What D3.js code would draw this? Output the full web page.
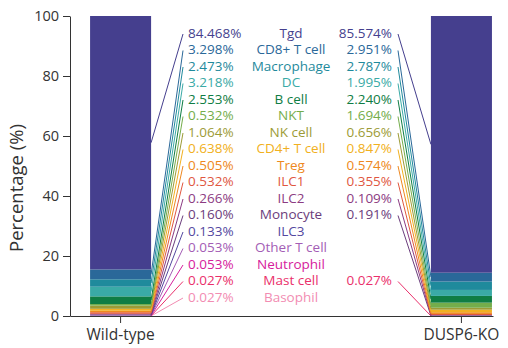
<!DOCTYPE html>
<html>
<head>
<meta charset="utf-8">
<script src="https://cdn.jsdelivr.net/npm/d3@7"></script>
<style>
  body { margin: 0; background: #fff; }
  text { font-family: "Open Sans", "Noto Sans", sans-serif; }
</style>
</head>
<body>
<div id="chart"></div>
<script>
// Chart data (top of stack first)
var cellTypes = ["Tgd", "CD8+ T cell", "Macrophage", "DC", "B cell", "NKT", "NK cell",
  "CD4+ T cell", "Treg", "ILC1", "ILC2", "Monocyte", "ILC3", "Other T cell",
  "Neutrophil", "Mast cell", "Basophil"];
var wildType = [84.468, 3.298, 2.473, 3.218, 2.553, 0.532, 1.064, 0.638, 0.505,
  0.532, 0.266, 0.160, 0.133, 0.053, 0.053, 0.027, 0.027];
var dusp6KO = [85.574, 2.951, 2.787, 1.995, 2.240, 1.694, 0.656, 0.847, 0.574,
  0.355, 0.109, 0.191, 0, 0, 0, 0.027, 0];
var groups = ["Wild-type", "DUSP6-KO"];
var cellColors = ["#453f8e", "#2a6899", "#1f8a9c", "#3aaaa6", "#0f7d44", "#74ad4b",
  "#9c9b36", "#f1b020", "#ee8820", "#e0573f", "#8c3b82", "#6b3d7c", "#5448a0",
  "#a35db5", "#d6209c", "#ea2f6b", "#f28cb2"];
var yTicks = [0, 20, 40, 60, 80, 100];

var svgWidth = 508;
var svgHeight = 348;

var svg = d3.select("#chart").append("svg")
  .attr("width", svgWidth)
  .attr("height", svgHeight);

// build table for the stack
var table = groups.map(function(g, gi) {
  var row = { group: g };
  cellTypes.forEach(function(c, i) {
    row[c] = gi === 0 ? wildType[i] : dusp6KO[i];
  });
  return row;
});

var stackKeys = cellTypes.slice().reverse(); // Basophil at the bottom
var series = d3.stack().keys(stackKeys)(table);

var color = d3.scaleOrdinal().domain(cellTypes).range(cellColors);

var xScale = d3.scaleBand()
  .domain(groups)
  .range([70, 493])
  .paddingInner(0.821)
  .paddingOuter(0.031)
  .align(0.95);

var yScale = d3.scaleLinear()
  .domain([0, 100])
  .range([316, 16]);

// label rows
var rowScale = d3.scalePoint()
  .domain(cellTypes)
  .range([33, 297]);

// bars
var layers = svg.append("g").selectAll("g")
  .data(series)
  .enter()
  .append("g")
  .attr("fill", function(d) { return color(d.key); });

layers.selectAll("rect")
  .data(function(d) { return d; })
  .enter()
  .append("rect")
  .attr("x", function(d) { return xScale(d.data.group); })
  .attr("width", xScale.bandwidth())
  .attr("y", function(d) { return yScale(d[1]); })
  .attr("height", function(d) { return yScale(d[0]) - yScale(d[1]); });

// connector lines
var lineGrp = svg.append("g").attr("fill", "none").attr("stroke-width", 1);
series.forEach(function(s) {
  var key = s.key;
  // wild-type: bar right edge -> label
  var wt = s[0];
  if (wt.data[key] > 0) {
    lineGrp.append("line")
      .attr("stroke", color(key))
      .attr("x1", xScale(groups[0]) + xScale.bandwidth())
      .attr("y1", yScale((wt[0] + wt[1]) / 2))
      .attr("x2", 183)
      .attr("y2", rowScale(key) + 1);
  }
  // DUSP6-KO: label -> bar left edge
  var ko = s[1];
  if (ko.data[key] > 0) {
    lineGrp.append("line")
      .attr("stroke", color(key))
      .attr("x1", 398)
      .attr("y1", rowScale(key) + 1)
      .attr("x2", xScale(groups[1]))
      .attr("y2", yScale((ko[0] + ko[1]) / 2));
  }
});

// labels
var labelGrp = svg.append("g").style("font-size", "13.5px");
cellTypes.forEach(function(c, i) {
  labelGrp.append("text")
    .attr("x", 188)
    .attr("y", rowScale(c))
    .attr("dy", "0.35em")
    .attr("fill", color(c))
    .text(wildType[i].toFixed(3) + "%");

  labelGrp.append("text")
    .attr("x", 291)
    .attr("y", rowScale(c))
    .attr("dy", "0.35em")
    .attr("text-anchor", "middle")
    .attr("fill", color(c))
    .text(c);

  if (dusp6KO[i] > 0) {
    labelGrp.append("text")
      .attr("x", 392)
      .attr("y", rowScale(c))
      .attr("dy", "0.35em")
      .attr("text-anchor", "end")
      .attr("fill", color(c))
      .text(dusp6KO[i].toFixed(3) + "%");
  }
});

// axes
var yAxis = svg.append("g")
  .attr("transform", "translate(70,0)")
  .call(d3.axisLeft(yScale).tickValues(yTicks).tickSize(7).tickSizeOuter(0).tickPadding(4));

var xAxis = svg.append("g")
  .attr("transform", "translate(0,316)")
  .call(d3.axisBottom(xScale).tickSize(7).tickSizeOuter(0).tickPadding(6));

[yAxis, xAxis].forEach(function(ax) {
  ax.selectAll("path, line").attr("stroke", "#333");
  ax.selectAll("text")
    .attr("fill", "#333")
    .style("font-family", "'Open Sans', 'Noto Sans', sans-serif");
});
yAxis.selectAll("text").style("font-size", "14.5px");
xAxis.selectAll("text").style("font-size", "15.5px");

// y axis title
svg.append("text")
  .attr("transform", "translate(23,188) rotate(-90)")
  .attr("text-anchor", "middle")
  .attr("fill", "#333")
  .style("font-size", "18.5px")
  .text("Percentage (%)");
</script>
</body>
</html>
